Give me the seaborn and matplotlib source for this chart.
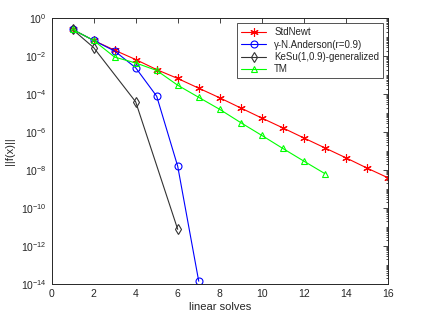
import numpy as np
import matplotlib
matplotlib.use("Agg")
import matplotlib.pyplot as plt
import matplotlib.ticker as mticker
import seaborn as sns

# values
x_std = list(range(1, 17))
y_std = [2.6e-1, 6.9e-2, 2.1e-2, 6.8e-3, 2.0e-3, 6.8e-4, 2.1e-4, 6.5e-5,
         1.9e-5, 5.6e-6, 1.7e-6, 5.0e-7, 1.5e-7, 4.5e-8, 1.3e-8, 4.0e-9]

x_and = list(range(1, 8))
y_and = [2.6e-1, 6.9e-2, 1.9e-2, 2.5e-3, 7.9e-5, 1.6e-8, 1.4e-14]

x_kesu = [1, 2, 4, 6]
y_kesu = [2.6e-1, 2.9e-2, 4.0e-5, 7.6e-12]

x_tm = list(range(1, 14))
y_tm = [2.6e-1, 6.9e-2, 9.1e-3, 4.5e-3, 1.8e-3, 3.0e-4, 6.9e-5, 1.6e-5,
        3.2e-6, 6.8e-7, 1.4e-7, 3.0e-8, 6.6e-9]

labels = ['StdNewt', 'γ-N.Anderson(r=0.9)', 'KeSu(1,0.9)-generalized', 'TM']
xticks = [0, 2, 4, 6, 8, 10, 12, 14, 16]
yticks = [1e0, 1e-2, 1e-4, 1e-6, 1e-8, 1e-10, 1e-12, 1e-14]

sns.set_style("white")
plt.rcParams['font.family'] = ['Liberation Sans', 'DejaVu Sans']
plt.rcParams['mathtext.default'] = 'regular'

fig = plt.figure(figsize=(4.23, 3.20), dpi=100)
ax = fig.add_axes([0.122, 0.1125, 0.795, 0.830])

common = dict(ax=ax, markersize=5, markeredgewidth=0.8, linewidth=0.8,
              markerfacecolor='none', linestyle='-')
sns.lineplot(x=x_std, y=y_std, color='red', marker='x',
             markeredgecolor='red', label=labels[0], **common)
sns.lineplot(x=x_and, y=y_and, color='blue', marker='o',
             markeredgecolor='blue', label=labels[1], **common)
sns.lineplot(x=x_kesu, y=y_kesu, color='#333333', marker='d',
             markeredgecolor='#333333', label=labels[2], **common)
sns.lineplot(x=x_tm, y=y_tm, color='#00ff00', marker='^',
             markeredgecolor='#00ff00', label=labels[3], **common)
# MATLAB-style asterisk for StdNewt
ax.lines[0].set_marker((6, 2, 0))
ax.lines[0].set_markersize(6)

ax.set_yscale('log')
ax.set_xlim(0, 16)
ax.set_ylim(1e-14, 1e0)
ax.set_xticks(xticks)
ax.set_yticks(yticks)
ax.yaxis.set_major_formatter(mticker.LogFormatterMathtext())
ax.yaxis.set_minor_locator(mticker.LogLocator(base=10, subs=np.arange(1, 10), numticks=50))
ax.yaxis.set_minor_formatter(mticker.NullFormatter())

ax.tick_params(which='both', direction='in', top=True, right=True,
               colors='#262626', labelsize=7.5, width=0.6)
ax.tick_params(which='major', length=3.5)
ax.tick_params(which='minor', length=1.8)
for s in ax.spines.values():
    s.set_color('#262626')
    s.set_linewidth(0.7)

ax.set_xlabel('linear solves', fontsize=8, color='#262626', labelpad=2)
ax.set_ylabel('||f(x)||', fontsize=8, color='#262626', labelpad=4)

leg = ax.legend(loc='upper right', fontsize=7, frameon=True, fancybox=False,
                edgecolor='#262626', borderaxespad=0.5, handlelength=2.6,
                labelspacing=0.25, borderpad=0.4)
leg.get_frame().set_linewidth(0.7)

fig.savefig('out.png', dpi=100)
